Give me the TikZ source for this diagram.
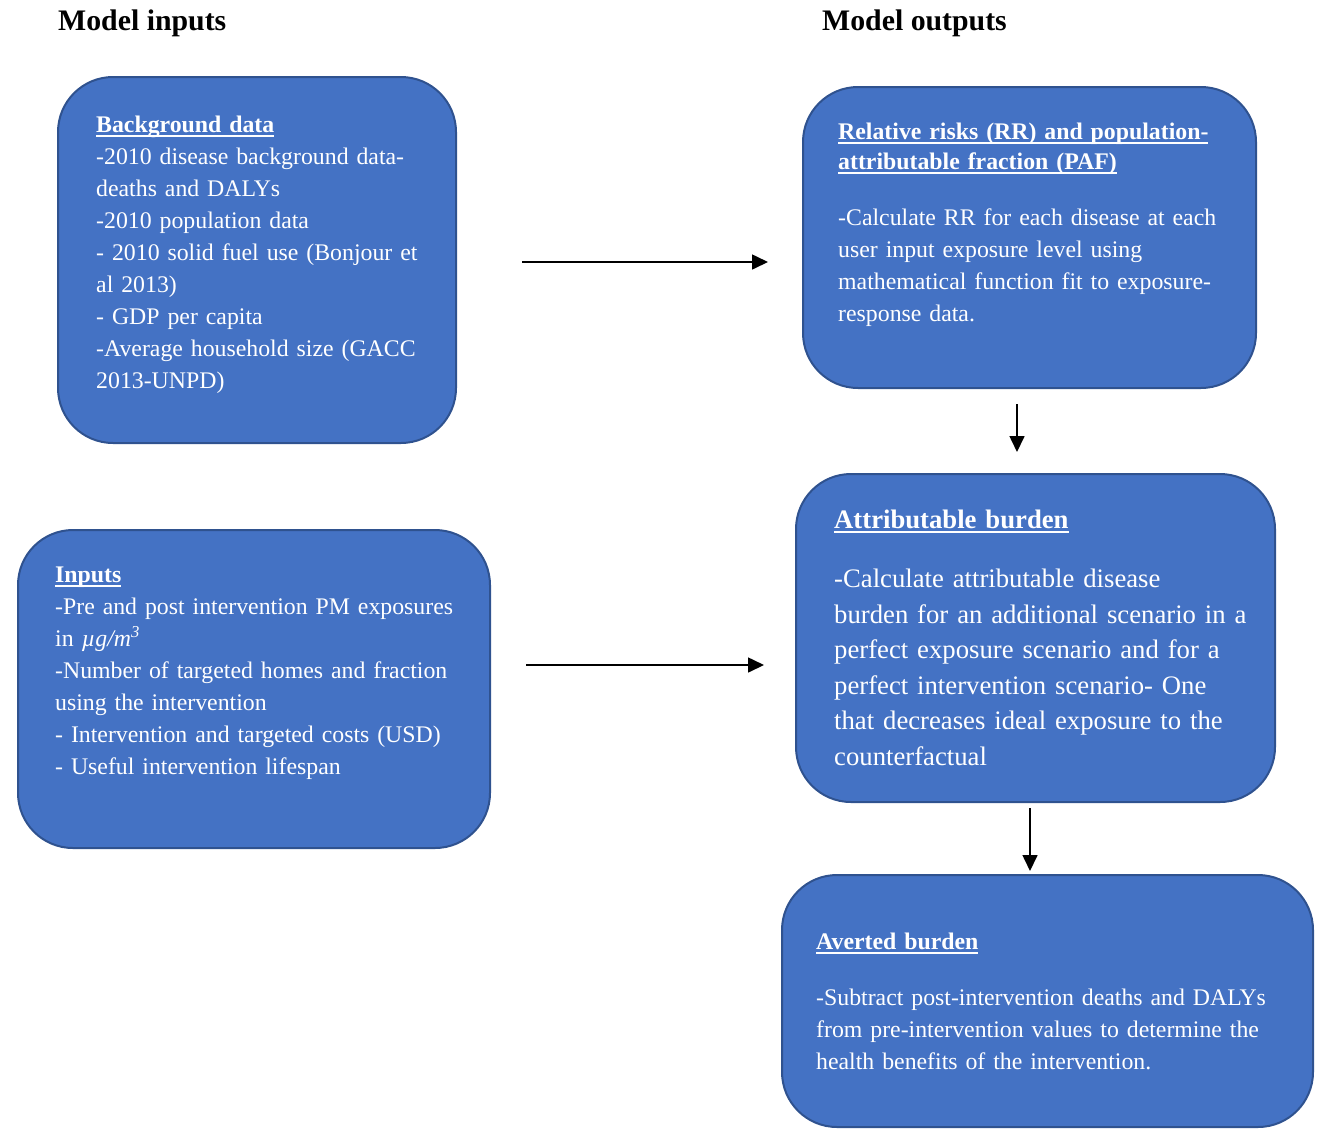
\documentclass[tikz,border=0pt]{standalone}
\usepackage{fontspec}
\setmainfont{Liberation Serif}
\usetikzlibrary{arrows.meta}
\definecolor{boxfill}{HTML}{4472C4}
\definecolor{boxline}{HTML}{2F528F}
\newcommand{\myul}[1]{\setbox0\hbox{#1}\rlap{\rule[-4.5pt]{\wd0}{1.6pt}}\box0}
\tikzset{
  box/.style={draw=boxline, line width=2pt, fill=boxfill, rounded corners=55pt, inner sep=0pt},
  txt/.style={anchor=north west, inner sep=0pt, text=white, align=left, text width=#1,
              font={\fontsize{23.8}{32}\selectfont}},
  bigtxt/.style={anchor=north west, inner sep=0pt, text=white, align=left, text width=#1,
              font={\fontsize{26.7}{35.5}\selectfont}},
  heading/.style={anchor=base west, inner sep=0pt, font={\fontsize{29.8}{34}\selectfont\bfseries}},
  arr/.style={line width=1.6pt, -{Triangle[length=16pt,width=15pt]}}
}
\begin{document}
\begin{tikzpicture}[x=1pt,y=-1pt]
\useasboundingbox (0,0) rectangle (1324,1128);

% headings
\node[heading] (hin) at (58,30) {Model inputs};
\node[heading] (hout) at (822,30) {Model outputs};

% boxes
\node[box, minimum width=398pt, minimum height=366pt] (bg) at (257,260) {};
\node[box, minimum width=472pt, minimum height=318pt] (inp) at (254,689) {};
\node[box, minimum width=453pt, minimum height=301pt] (rr) at (1029.5,237.5) {};
\node[box, minimum width=479pt, minimum height=328pt] (attr) at (1035.5,638) {};
\node[box, minimum width=531pt, minimum height=252pt] (avert) at (1047.5,1001) {};

% texts
\node[txt=340pt] (bgt) at (96,109.6) {\strut\textbf{\myul{Background data}}\\
-2010 disease background data-\\
deaths and DALYs\\
-2010 population data\\
- 2010 solid fuel use (Bonjour et\\
al 2013)\\
- GDP per capita\\
-Average household size (GACC\\
2013-UNPD)};

\node[txt=440pt] (inpt) at (55,559.6) {\strut\textbf{\myul{Inputs}}\\
-Pre and post intervention PM exposures\\
in {\itshape µg/m\textsuperscript{3}}\\
-Number of targeted homes and fraction\\
using the intervention\\
- Intervention and targeted costs (USD)\\
- Useful intervention lifespan};

\node[txt=410pt] (rrt) at (838,116.6) {\strut\textbf{\myul{Relative risks (RR) and population-}}\\[-2pt]
\textbf{\myul{attributable fraction (PAF)}}\\[24pt]
-Calculate RR for each disease at each\\
user input exposure level using\\
mathematical function fit to exposure-\\
response data.};

\node[bigtxt=430pt] (attrt) at (834,503.2) {\strut\textbf{\myul{Attributable burden}}\\[24pt]
-Calculate attributable disease\\
burden for an additional scenario in a\\
perfect exposure scenario and for a\\
perfect intervention scenario- One\\
that decreases ideal exposure to the\\
counterfactual};

\node[txt=480pt] (avertt) at (816,926.6) {\strut\textbf{\myul{Averted burden}}\\[24pt]
-Subtract post-intervention deaths and DALYs\\
from pre-intervention values to determine the\\
health benefits of the intervention.};

% connectors
\coordinate (a1s) at (522,262);
\coordinate (a1e) at (768,262);
\coordinate (a2s) at (526,665);
\coordinate (a2e) at (764,665);
\coordinate (a3s) at (1017,404);
\coordinate (a3e) at (1017,452);
\coordinate (a4s) at (1030,808);
\coordinate (a4e) at (1030,871);
\draw[arr] (a1s) -- (a1e);
\draw[arr] (a2s) -- (a2e);
\draw[arr] (a3s) -- (a3e);
\draw[arr] (a4s) -- (a4e);
\end{tikzpicture}
\end{document}
